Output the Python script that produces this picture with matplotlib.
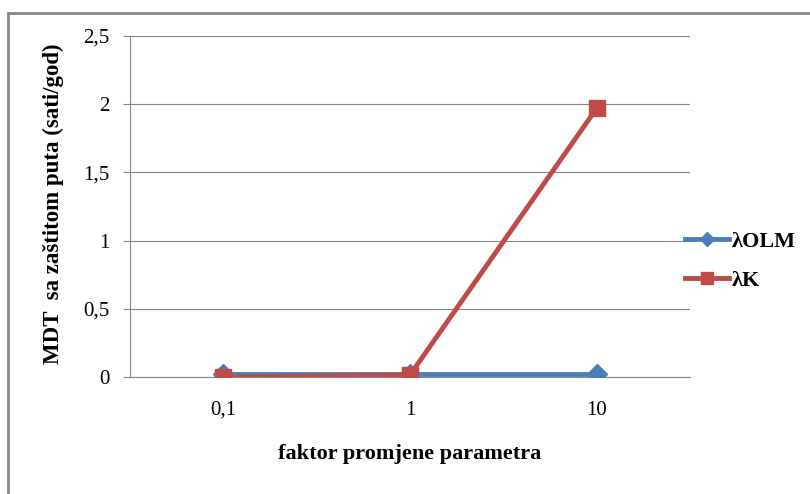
import matplotlib
matplotlib.use("Agg")
import matplotlib.pyplot as plt
from matplotlib.patches import Rectangle

categories = ["0,1", "1", "10"]
olm_values = [0.02, 0.02, 0.02]
k_values = [0.0, 0.015, 1.97]
series_names = ["\u03bbOLM", "\u03bbK"]
y_ticks = [0, 0.5, 1, 1.5, 2, 2.5]
y_tick_labels = ["0", "0,5", "1", "1,5", "2", "2,5"]

plt.rcParams['font.family'] = ['Liberation Serif', 'DejaVu Serif']

fig = plt.figure(figsize=(8.1, 4.94), dpi=100)
ax = fig.add_axes([130/810, 1 - 377/494, 560/810, 341/494])

x = list(range(len(categories)))
ax.plot(x, olm_values, color='#4a7ebb', lw=3.5, marker='D', ms=10,
        label=series_names[0], zorder=3)
ax.plot(x, k_values, color='#be4b48', lw=3.5, marker='s', ms=12,
        label=series_names[1], zorder=4)

ax.set_xlim(-0.5, 2.5)
ax.set_ylim(0, 2.5)
ax.set_yticks(y_ticks)
ax.set_yticklabels(y_tick_labels, fontsize=15)
ax.set_xticks(x)
ax.set_xticklabels(categories, fontsize=15)
ax.tick_params(axis='x', length=0, pad=17)
ax.tick_params(axis='y', length=5, color='#868686', pad=10)
ax.grid(axis='y', color='#868686', lw=0.8)
ax.set_axisbelow(True)
for s in ['top', 'right']:
    ax.spines[s].set_visible(False)
ax.spines['left'].set_color('#868686')
ax.spines['bottom'].set_color('#868686')
ax.spines['left'].set_linewidth(0.8)
ax.spines['bottom'].set_linewidth(0.8)

fig.text(410/810, 1 - 454/494, "faktor promjene parametra", ha='center',
         va='center', fontsize=16, fontweight='bold')
fig.text(53/810, 1 - 204/494, "MDT  sa zaštitom puta (sati/god)", ha='center',
         va='center', rotation=90, fontsize=16.5, fontweight='bold')

leg = fig.legend(*ax.get_legend_handles_labels(), loc='center left',
                 bbox_to_anchor=(685/810, 1 - 261/494), frameon=False,
                 prop={'size': 16, 'weight': 'bold'}, handlelength=2.0,
                 handletextpad=0.1, labelspacing=0.85, borderpad=0,
                 borderaxespad=0, markerscale=0.75)

fig.patches.append(Rectangle((8/810, -0.1), 1.2, 1.1 - 13/494, transform=fig.transFigure,
                             fill=False, edgecolor='#868686', lw=2, zorder=0))

fig.savefig("out.png", dpi=100)
